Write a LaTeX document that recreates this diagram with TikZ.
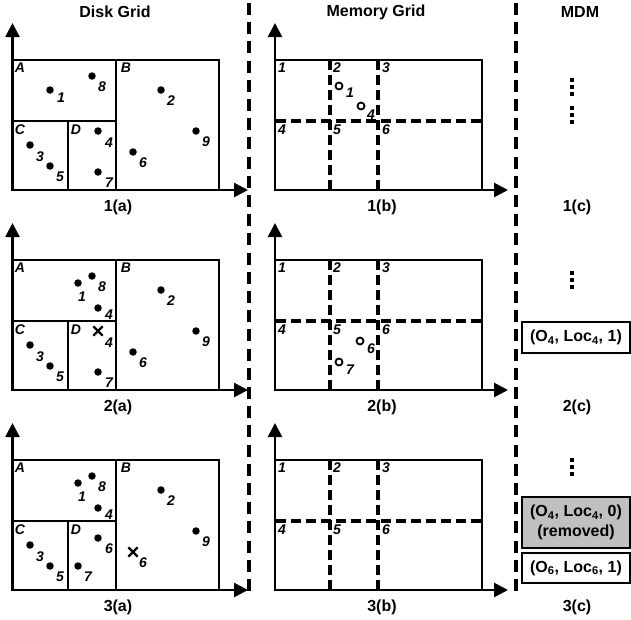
\documentclass[tikz,border=0pt]{standalone}
\usepackage{fontspec}
\setmainfont{Liberation Sans}
\usetikzlibrary{arrows.meta,shapes.misc}
\definecolor{boxgray}{RGB}{192,192,192}
\begin{document}
\begin{tikzpicture}[x=1pt,y=-1pt,
  axis/.style={line width=2.6pt,-{Triangle[length=14pt,width=14pt]}},
  cell/.style={line width=2.6pt},
  mgrid/.style={line width=3.4pt,dash pattern=on 10pt off 5pt},
  sep/.style={line width=4pt,dash pattern=on 12pt off 7.2pt},
  ttl/.style={font=\fontsize{16}{18}\selectfont\bfseries,inner sep=0pt},
  lab/.style={font=\fontsize{14}{16}\selectfont\bfseries\itshape,inner sep=0pt},
  obj/.style={circle,fill=black,inner sep=0pt,minimum size=7.5pt},
  mem/.style={circle,draw=black,line width=1.8pt,fill=white,inner sep=0pt,minimum size=7pt},
  gone/.style={cross out,draw=black,line width=2.3pt,inner sep=0pt,minimum size=7pt},
  entry/.style={draw,line width=2pt,minimum width=107.5pt,inner sep=0pt,font=\fontsize{16}{19}\selectfont\bfseries,align=center},
  vdot/.style={fill=black,inner sep=0pt,minimum size=3.5pt}
]
\useasboundingbox (0,0) rectangle (631,619);

% titles
\node[ttl] (tdisk) at (115,12) {Disk Grid};
\node[ttl] (tmem) at (376,12) {Memory Grid};
\node[ttl] (tmdm) at (580,12) {MDM};

% separators
\draw[sep] (249,3) -- (249,592);
\draw[sep] (516,3) -- (516,592);

% ---------- disk grids and memory grids ----------
\foreach \r/\cap in {0/1,1/2,2/3}{
\begin{scope}[shift={(0,200*\r)}]
  \draw[axis] (12.5,191.3) -- (12.5,23);
  \draw[axis] (11.2,190) -- (248,190);
  \draw[cell] (12.5,60) -- (219,60) -- (219,190);
  \draw[cell] (116,60) -- (116,190);
  \draw[cell] (12.5,121) -- (116,121);
  \draw[cell] (68,121) -- (68,190);
  \node[lab] (dA\r) at (20,68) {A};
  \node[lab] (dB\r) at (126,68) {B};
  \node[lab] (dC\r) at (20,130) {C};
  \node[lab] (dD\r) at (76,130) {D};
  \node[ttl] (capa\r) at (118,207) {\cap(a)};
  % memory grid
  \draw[axis] (275,191.3) -- (275,23);
  \draw[axis] (273.7,190) -- (508,190);
  \draw[cell] (275,60) -- (482,60) -- (482,190);
  \draw[mgrid] (330,60) -- (330,190);
  \draw[mgrid] (378,60) -- (378,190);
  \draw[mgrid] (276,121) -- (481,121);
  \node[lab] (m1\r) at (282,68) {1};
  \node[lab] (m2\r) at (337,68) {2};
  \node[lab] (m3\r) at (386,68) {3};
  \node[lab] (m4\r) at (282,130) {4};
  \node[lab] (m5\r) at (337,130) {5};
  \node[lab] (m6\r) at (386,130) {6};
  \node[ttl] (capb\r) at (382,207) {\cap(b)};
  \node[ttl] (capc\r) at (577,207) {\cap(c)};
  % common objects
  \node[obj] (o8\r) at (92,76) {};  \node[lab] at (102,87) {8};
  \node[obj] (o2\r) at (161,90) {}; \node[lab] at (171,101) {2};
  \node[obj] (o9\r) at (196,131) {}; \node[lab] at (206,142) {9};
  \node[obj] (o3\r) at (30,145) {}; \node[lab] at (40,157) {3};
  \node[obj] (o5\r) at (50,166) {}; \node[lab] at (60,177) {5};
\end{scope}}

% row 1 specific
\node[obj] (o1a) at (50,90) {};  \node[lab] at (61,98) {1};
\node[obj] (o4a) at (98,131) {}; \node[lab] at (109,143) {4};
\node[obj] (o7a) at (98,172) {}; \node[lab] at (109,183) {7};
\node[obj] (o6a) at (133,152) {}; \node[lab] at (143,163) {6};
\node[mem] (c1a) at (339,86) {}; \node[lab] at (350,93) {1};
\node[mem] (c4a) at (361,106) {}; \node[lab] at (371,115) {4};

% row 2 specific
\node[obj] (o1b) at (78,283) {};  \node[lab] at (82,297) {1};
\node[obj] (o4b) at (98,308) {};  \node[lab] at (109,315) {4};
\node[gone] (x4b) at (98,331) {}; \node[lab] at (109,343) {4};
\node[obj] (o7b) at (98,372) {};  \node[lab] at (109,383) {7};
\node[obj] (o6b) at (133,352) {}; \node[lab] at (143,363) {6};
\node[mem] (c6b) at (360,341) {}; \node[lab] at (371,349) {6};
\node[mem] (c7b) at (339,362) {}; \node[lab] at (350,370) {7};

% row 3 specific
\node[obj] (o1c) at (78,483) {};  \node[lab] at (82,497) {1};
\node[obj] (o4c) at (98,508) {};  \node[lab] at (109,515) {4};
\node[obj] (o6c) at (98,538) {};  \node[lab] at (109,549) {6};
\node[obj] (o7c) at (78,566) {};  \node[lab] at (88,577) {7};
\node[gone] (x6c) at (133,552) {}; \node[lab] at (143,563) {6};

% ---------- MDM column ----------
\foreach \y in {80,87,94,108,115,122,273,280,287,460,467,474}
  \node[vdot] at (572,\y) {};
\node[entry,minimum height=31pt] (e1) at (576,337.5) {(O\textsubscript{4}, Loc\textsubscript{4}, 1)};
\node[entry,fill=boxgray,minimum height=51pt,font=\fontsize{16}{20}\selectfont\bfseries] (e2) at (576,522.5) {(O\textsubscript{4}, Loc\textsubscript{4}, 0)\\(removed)};
\node[entry,minimum height=30pt] (e3) at (576,568) {(O\textsubscript{6}, Loc\textsubscript{6}, 1)};
\end{tikzpicture}
\end{document}
